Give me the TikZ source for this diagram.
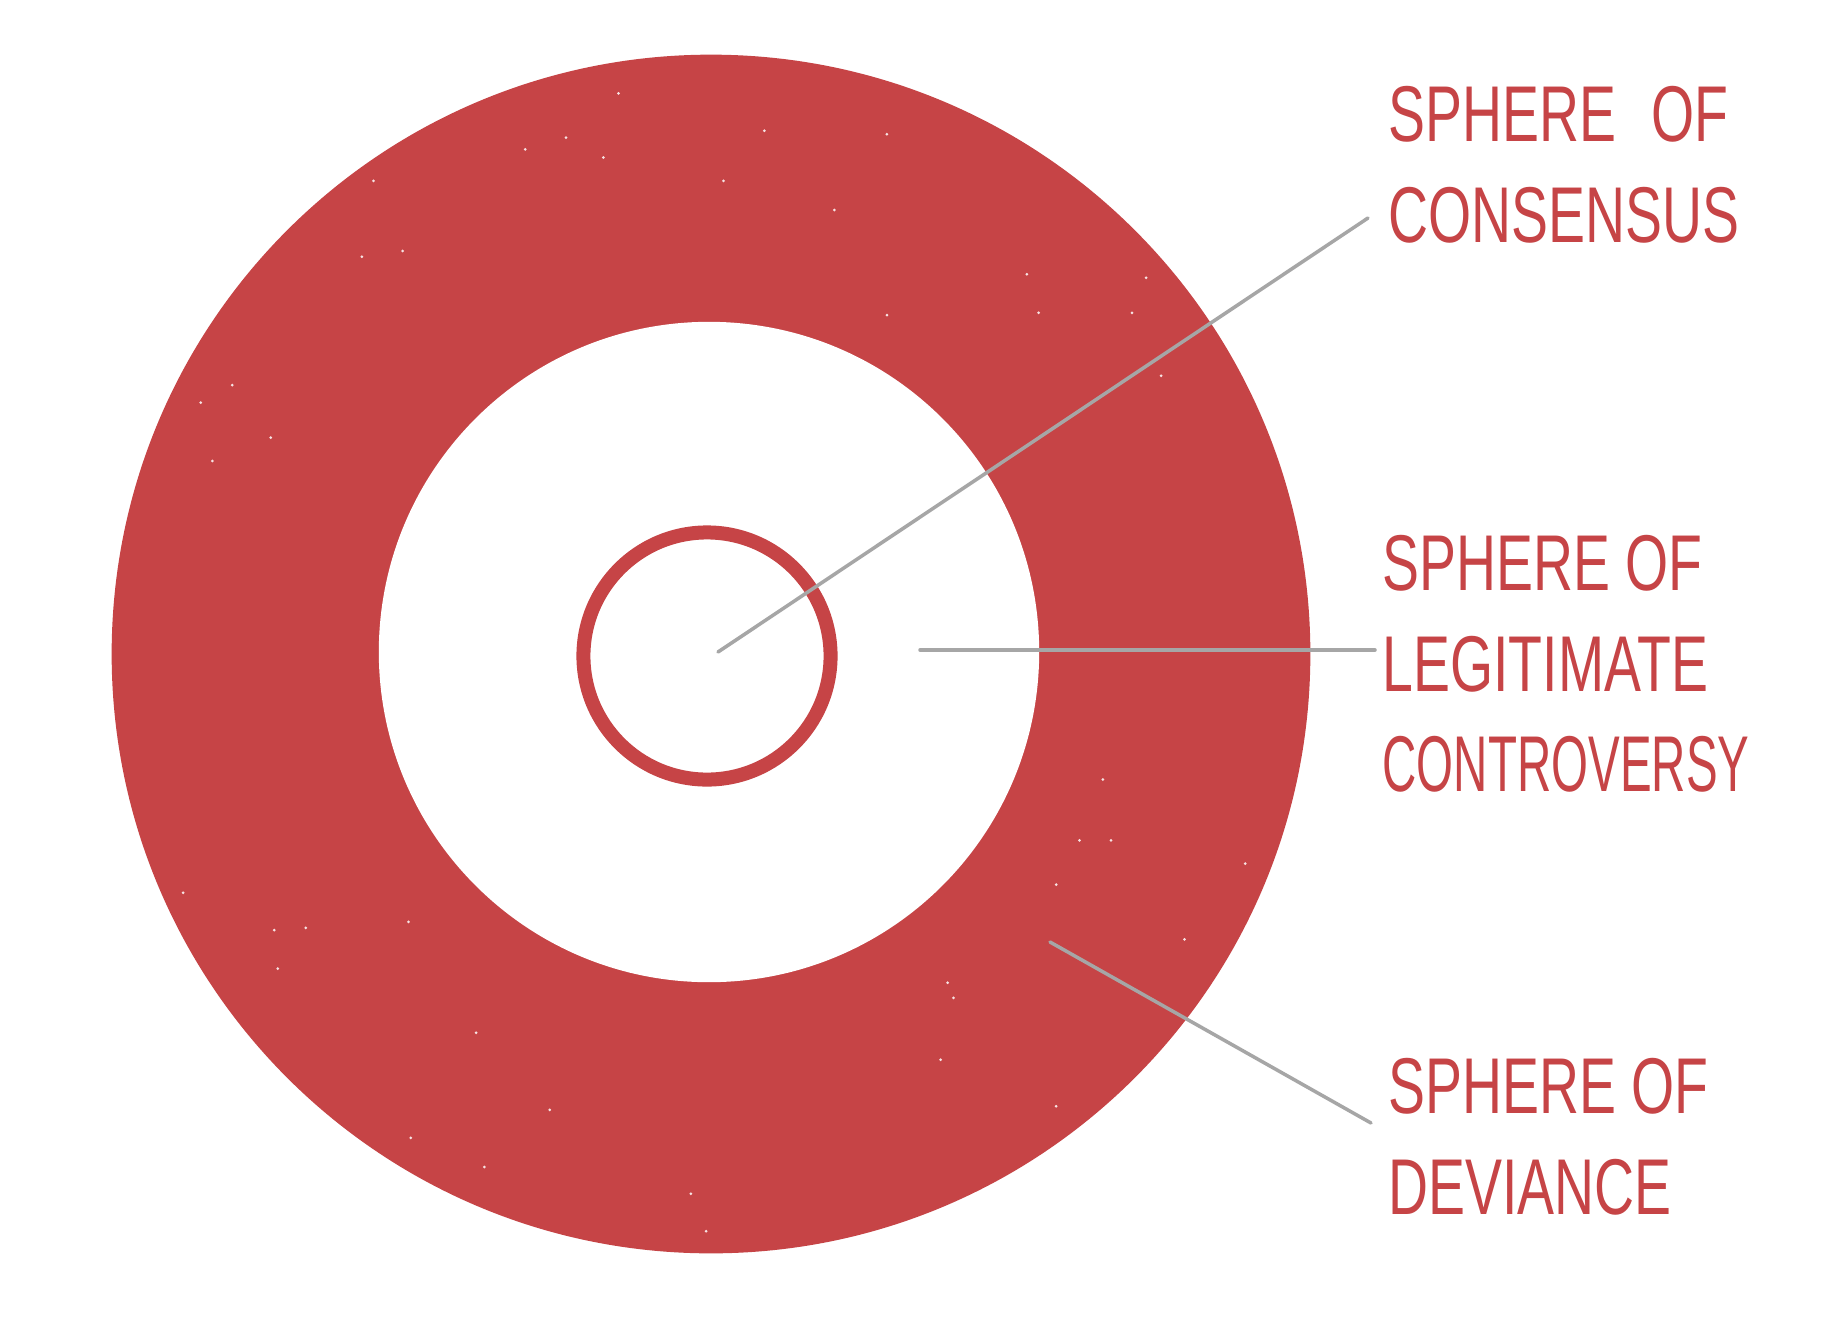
\documentclass[tikz,border=0pt]{standalone}
\usepackage{fontspec}
\newfontfamily\handfont[FakeStretch=0.7]{Liberation Sans}
\newfontfamily\handnarrow[FakeStretch=0.6]{Liberation Sans}
\usetikzlibrary{positioning}
\definecolor{ringred}{RGB}{198,68,70}
\definecolor{leadgray}{RGB}{166,166,166}

\begin{document}
\begin{tikzpicture}[
    x=0.01cm, y=-0.01cm,
    ring/.style = {fill=ringred, draw=none},
    hole/.style = {fill=white, draw=none},
    speck/.style = {fill=white, draw=none, opacity=0.85},
    leader/.style = {draw=leadgray, line width=0.035cm, line cap=round},
    spheretext/.style = {text=ringred, font=\handfont\fontsize{22.5}{28.5}\selectfont,
                         align=left, inner sep=0pt, anchor=north west}
]

    % Canvas
    \fill[white] (0,0) rectangle (1830,1333);
    \useasboundingbox (0,0) rectangle (1830,1333);

    % Spheres
    \fill[ring] (711,654) circle (5.99cm);
    \fill[hole] (709,652) circle (3.30cm);
    \draw[ringred, line width=0.14cm] (707,656) circle (1.235cm);

    % Texture of the outer sphere
    \foreach \px/\py in {530/80, 655/112, 760/115, 450/128, 517/135, 485/118, 620/155,
                         320/155, 715/180, 310/220, 345/215, 880/235, 982/238, 970/268,
                         890/268, 760/270, 199/330, 172/345, 182/395, 232/375, 995/322,
                         945/668, 925/720, 905/758, 952/720, 1067/740, 812/842, 817/855,
                         806/908, 471/951, 415/1000, 605/1055, 592/1023, 235/797, 262/795,
                         157/765, 238/830, 352/975, 350/790, 408/885, 1015/805, 905/948}
        \fill[speck] (\px*1.167,\py*1.167) circle (0.015cm);

    % Labels
    \node[spheretext] (consensus) at (1388,86) {SPHERE\hspace{0.35cm}OF\\CONSENSUS};
    \node[spheretext] (controversy) at (1382,535) {SPHERE OF\\LEGITIMATE\\{\handnarrow CONTROVERSY}};
    \node[spheretext] (deviance) at (1388,1058) {SPHERE OF\\DEVIANCE};

    % Leader lines
    \coordinate (inner) at (718,652);
    \coordinate (middle) at (920,650);
    \coordinate (outer) at (1050,942);
    \coordinate (consensus end) at (1368,218);
    \coordinate (controversy end) at (1375,650);
    \coordinate (deviance end) at (1371,1123);
    \draw[leader] (inner) -- (consensus end);
    \draw[leader] (middle) -- (controversy end);
    \draw[leader] (outer) -- (deviance end);

\end{tikzpicture}
\end{document}
